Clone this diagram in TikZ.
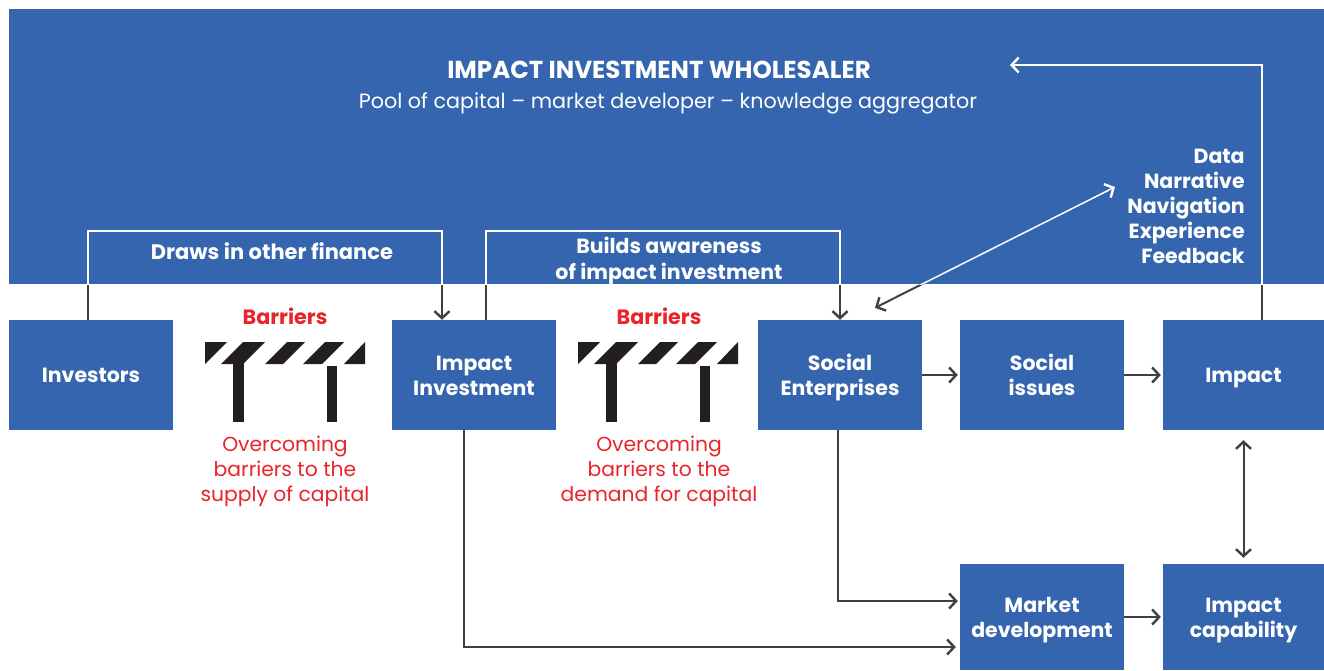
\documentclass[tikz,border=0pt]{standalone}
\usepackage{fontspec}
\setmainfont{Poppins}
\usetikzlibrary{arrows.meta,calc}
\definecolor{wblue}{HTML}{3565AE}
\definecolor{dgrey}{HTML}{404040}
\definecolor{bred}{HTML}{E8252B}
\definecolor{iconblack}{HTML}{231F20}
\newcommand\bt[2][c]{\raisebox{-8pt}[0pt][0pt]{\begin{tabular}{@{}#1@{}}#2\end{tabular}}}
\newcommand\twotone[2]{%
  \begin{scope}\clip (0,284) rectangle (1324,670);
    \draw[conn,#1] #2;\end{scope}%
  \begin{scope}\clip (banner.south west) rectangle (banner.north east);
    \draw[conn,#1,draw=white,line width=1.5pt] #2;\end{scope}}
\newcommand\barrier{%
  \fill[iconblack] (0,0) -- (22,0) -- (0,22) -- cycle;
  \fill[iconblack] (38,0) -- (60,0) -- (38,22) -- (16,22) -- cycle;
  \fill[iconblack] (28,21) rectangle (39,80);
  \fill[iconblack] (82,0) -- (100,0) -- (78,22) -- (60,22) -- cycle;
  \fill[iconblack] (120,0) -- (139,0) -- (117,22) -- (98,22) -- cycle;
  \fill[iconblack] (160,0) -- (160,22) -- (139,22) -- cycle;
  \fill[iconblack] (122,24) rectangle (132,80);}
\begin{document}
\begin{tikzpicture}[x=1pt,y=-1pt,
  box/.style={fill=wblue, text=white, font=\bfseries\fontsize{20.5}{25}\selectfont,
    minimum width=164pt, minimum height=110pt, inner sep=0pt},
  conn/.style={draw=dgrey, line width=2pt},
  tip/.style={-{Straight Barb[length=7pt,width=15pt,line width=2.4pt]}},
  dtip/.style={{Straight Barb[length=7pt,width=15pt,line width=2.4pt]}-{Straight Barb[length=7pt,width=15pt,line width=2.4pt]}},
  wtext/.style={text=white, font=\bfseries\fontsize{20.5}{26}\selectfont, inner sep=0pt},
  rtext/.style={text=bred, font=\fontsize{20.3}{25}\selectfont, inner sep=0pt},
  rbold/.style={text=bred, font=\bfseries\fontsize{20.7}{25}\selectfont, inner sep=0pt}]
\useasboundingbox (0,0) rectangle (1324,670);
\fill[white] (0,0) rectangle (1324,670);
\node[fill=wblue, minimum width=1315pt, minimum height=275pt, anchor=north west, inner sep=0pt] (banner) at (9,9) {};
\node[text=white, font=\bfseries\fontsize{24.5}{25}\selectfont, inner sep=0pt] (title) at (659,70) {IMPACT INVESTMENT WHOLESALER};
\node[text=white, font=\fontsize{20.7}{25}\selectfont, inner sep=0pt] (subtitle) at (668,103) {Pool of capital – market developer – knowledge aggregator};
\node[wtext, font=\bfseries\fontsize{21}{26}\selectfont] (draws) at (272,251) {Draws in other finance};
\node[wtext, font=\bfseries\fontsize{20.5}{26}\selectfont] (builds) at (669,258) {\bt{Builds awareness\\of impact investment}};
\node[wtext, font=\bfseries\fontsize{20.5}{25}\selectfont] (fb) at (1186,206) {\bt[r]{Data\\Narrative\\Navigation\\Experience\\Feedback}};

\node[box] (inv) at (91,375) {\bt{Investors}};
\node[box] (ii) at (474,375) {\bt{Impact\\Investment}};
\node[box] (se) at (840,375) {\bt{Social\\Enterprises}};
\node[box] (si) at (1042,375) {\bt{Social\\issues}};
\node[box, minimum width=161pt] (imp) at (1243.5,375) {\bt{Impact}};
\node[box, minimum height=106pt] (md) at (1042,617) {\bt{Market\\development}};
\node[box, minimum width=161pt, minimum height=106pt] (ic) at (1243.5,617) {\bt{Impact\\capability}};

\node[rbold] (bar1) at (285,316) {Barriers};
\node[rbold] (bar2) at (659,316) {Barriers};
\begin{scope}[shift={(205,342)}]\barrier\end{scope}
\begin{scope}[shift={(578,342)}]\barrier\end{scope}
\node[rtext] (ov1) at (285,469) {\bt{Overcoming\\barriers to the\\supply of capital}};
\node[rtext] (ov2) at (659,469) {\bt{Overcoming\\barriers to the\\demand for capital}};

\coordinate (dataend) at (1115,187);
\coordinate (fbend) at (1010,65);

\twotone{tip}{([xshift=-3pt]inv.north) -- ++(0,-89) -| ([xshift=-32pt]ii.north)}
\twotone{tip}{([xshift=12pt]ii.north) -- ++(0,-89) -| (se.north)}
\twotone{dtip}{([xshift=35pt,yshift=12pt]se.north) -- (dataend)}
\twotone{tip}{([xshift=18.5pt]imp.north) |- (fbend)}

\draw[conn,tip,shorten >=2pt] (se.east) -- (si.west);
\draw[conn,tip,shorten >=2pt] (si.east) -- (imp.west);
\draw[conn,tip,shorten >=2pt] (md.east) -- (ic.west);
\draw[conn,dtip,shorten <=10pt,shorten >=6pt] (imp.south) -- (ic.north);
\draw[conn,tip,shorten >=2pt] ([xshift=-2pt]se.south) |- ([yshift=16pt]md.west);
\draw[conn,tip,shorten >=4pt] ([xshift=-10pt]ii.south) |- ([yshift=-30pt]md.west);
\end{tikzpicture}
\end{document}
